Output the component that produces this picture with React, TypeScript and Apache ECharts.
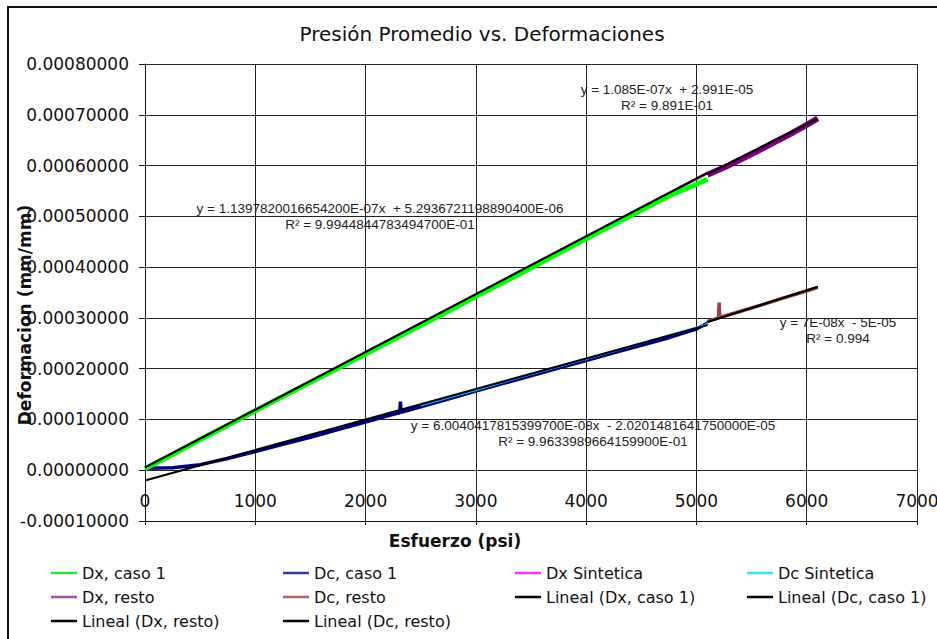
import React, { useEffect, useRef } from "react";
import * as echarts from "echarts";

// ---- data ----
const xDxCaso1 = [0, 250, 500, 750, 1000, 1250, 1500, 1750, 2000, 2250, 2500, 2750, 3000, 3250, 3500, 3750, 4000, 4250, 4500, 4750, 5000, 5100];
const yDxCaso1 = [0.000003, 0.000031, 0.00006, 0.000088, 0.000117, 0.000145, 0.000173, 0.000201, 0.000229, 0.000257, 0.000285, 0.000313, 0.000342, 0.00037, 0.000398, 0.000427, 0.000456, 0.000484, 0.000512, 0.00054, 0.000563, 0.000573];

const xDcCaso1 = [0, 250, 500, 750, 1000, 1250, 1500, 1750, 2000, 2250, 2310, 2316, 2322, 2500, 2750, 3000, 3250, 3500, 3750, 4000, 4250, 4500, 4750, 5000, 5100];
const yDcCaso1 = [0.000004, 0.000005, 0.000011, 0.000023, 0.000037, 0.000051, 0.000065, 0.00008, 0.000095, 0.00011, 0.000113, 0.000135, 0.000114, 0.000125, 0.00014, 0.000156, 0.000171, 0.000186, 0.000201, 0.000216, 0.000231, 0.000246, 0.000261, 0.000278, 0.00029];

const xDxSint = [3000, 3500, 4000, 4500, 5000, 5100];
const yDxSint = [0.000346, 0.000402, 0.000459, 0.000516, 0.000573, 0.000584];

const xDcSint = [2500, 3000, 3500, 4000, 4500, 5000, 5100];
const yDcSint = [0.000128, 0.000158, 0.000189, 0.000219, 0.00025, 0.000281, 0.000288];

const xDxResto = [5100, 5250, 5400, 5550, 5700, 5850, 6000, 6100];
const yDxResto = [0.000582, 0.000596, 0.000612, 0.000628, 0.000645, 0.000662, 0.00068, 0.000693];

const xDcResto = [5100, 5200, 5206, 5212, 5400, 5600, 5800, 6000, 6100];
const yDcResto = [0.000293, 0.0003, 0.00033, 0.000301, 0.000313, 0.000326, 0.00034, 0.000353, 0.00036];

const xLinDxCaso1 = [0, 5100];
const yLinDxCaso1 = [0.0000053, 0.000586];
const xLinDcCaso1 = [0, 5100];
const yLinDcCaso1 = [-0.0000202, 0.000286];
const xLinDxResto = [5100, 6100];
const yLinDxResto = [0.000583, 0.000692];
const xLinDcResto = [5100, 6100];
const yLinDcResto = [0.000292, 0.000361];

const xTicksMin = 0;
const xTicksMax = 7000;
const xTickStep = 1000;
const yTicksMin = -0.0001;
const yTicksMax = 0.0008;
const yTickStep = 0.0001;

const chartTitle = "Presión Promedio vs. Deformaciones";
const xTitle = "Esfuerzo (psi)";
const yTitle = "Deformacion (mm/mm)";

const eq1 = ["y = 1.1397820016654200E-07x  + 5.2936721198890400E-06", "R² = 9.9944844783494700E-01"];
const eq2 = ["y = 1.085E-07x  + 2.991E-05", "R² = 9.891E-01"];
const eq3 = ["y = 6.0040417815399700E-08x  - 2.0201481641750000E-05", "R² = 9.9633989664159900E-01"];
const eq4 = ["y = 7E-08x  - 5E-05", "R² = 0.994"];

const zip = (xs: number[], ys: number[]) => xs.map((x, i) => [x, ys[i]]);

const FONT = "'DejaVu Sans', Verdana, sans-serif";
const EQFONT = "'Liberation Sans', Arial, sans-serif";

export default function App() {
  const ref = useRef<HTMLDivElement>(null);
  useEffect(() => {
    if (!ref.current) return;
    const chart = echarts.init(ref.current, undefined, { renderer: "svg" });

    const line = (name: string, xs: number[], ys: number[], color: string, width: number) => ({
      name,
      type: "line",
      data: zip(xs, ys),
      showSymbol: false,
      symbol: "none",
      lineStyle: { color, width },
      itemStyle: { color },
      emphasis: { disabled: true },
      silent: true,
    });

    const legendBase = {
      orient: "vertical",
      top: 565,
      padding: 0,
      itemWidth: 26,
      itemHeight: 2.5,
      itemGap: 8,
      textStyle: { fontFamily: FONT, fontSize: 16, lineHeight: 16, color: "#111", padding: 0 },
      selectedMode: false,
    };
    const li = (name: string, color: string) => ({
      name,
      icon: "rect",
      itemStyle: { color },
    });

    const eqText = (lines: string[], cx: number, cy: number) =>
      lines.map((t, i) => ({
        type: "text",
        x: cx,
        y: cy + i * 16,
        silent: true,
        style: {
          text: t,
          font: `13.5px ${EQFONT}`,
          fill: "#222",
          align: "center",
          verticalAlign: "middle",
          textAlign: "center",
          textVerticalAlign: "middle",
        },
      }));

    const option: any = {
      animation: false,
      backgroundColor: "#fff",
      grid: { left: 145, top: 64, right: 20, bottom: 118, containLabel: false, outerBoundsMode: "none" },
      xAxis: {
        type: "value",
        min: xTicksMin,
        max: xTicksMax,
        interval: xTickStep,
        axisLine: { show: true, onZero: false, lineStyle: { color: "#111", width: 1 } },
        axisTick: { show: true, length: 4, lineStyle: { color: "#111" } },
        axisLabel: {
          fontFamily: FONT,
          fontSize: 17,
          color: "#111",
          margin: -29,
          formatter: (v: number) => String(v),
        },
        splitLine: { show: true, lineStyle: { color: "#222", width: 1 } },
      },
      yAxis: {
        type: "value",
        min: yTicksMin,
        max: yTicksMax,
        interval: yTickStep,
        axisLine: { show: true, lineStyle: { color: "#111", width: 1 } },
        axisTick: { show: true, length: 6, lineStyle: { color: "#111" } },
        axisLabel: {
          fontFamily: FONT,
          fontSize: 17,
          color: "#111",
          margin: 16,
          formatter: (v: number) => v.toFixed(8),
        },
        splitLine: { show: true, lineStyle: { color: "#222", width: 1 } },
      },
      legend: [
        { ...legendBase, left: 51, data: [li("Dx, caso 1", "#33dd33"), li("Dx, resto", "#a050a0"), li("Lineal (Dx, resto)", "#000")] },
        { ...legendBase, left: 283, data: [li("Dc, caso 1", "#3838a0"), li("Dc, resto", "#b06060"), li("Lineal (Dc, resto)", "#000")] },
        { ...legendBase, left: 515, data: [li("Dx Sintetica", "#ff33ff"), li("Lineal (Dx, caso 1)", "#000")] },
        { ...legendBase, left: 747, data: [li("Dc Sintetica", "#33e0f0"), li("Lineal (Dc, caso 1)", "#000")] },
      ],
      series: [
        line("Dx Sintetica", xDxSint, yDxSint, "#ff00ff", 2),
        line("Dc, caso 1", xDcCaso1, yDcCaso1, "#000080", 3.5),
        line("Dc Sintetica", xDcSint, yDcSint, "#00e8ff", 2),
        line("Dx, caso 1", xDxCaso1, yDxCaso1, "#00ff00", 5),
        line("Dx, resto", xDxResto, yDxResto, "#800080", 6),
        line("Dc, resto", xDcResto, yDcResto, "#a04040", 3.5),
        line("Lineal (Dx, caso 1)", xLinDxCaso1, yLinDxCaso1, "#000", 2.2),
        line("Lineal (Dc, caso 1)", xLinDcCaso1, yLinDcCaso1, "#000", 2.2),
        line("Lineal (Dx, resto)", xLinDxResto, yLinDxResto, "#000", 2.2),
        line("Lineal (Dc, resto)", xLinDcResto, yLinDcResto, "#000", 2.2),
      ],
      graphic: [
        {
          type: "rect",
          silent: true,
          shape: { x: 8, y: 7, width: 980, height: 700 },
          style: { fill: "none", stroke: "#111", lineWidth: 2 },
          z: -1,
        },
        {
          type: "text",
          x: 482,
          y: 34,
          silent: true,
          style: { text: chartTitle, font: `20px ${FONT}`, fill: "#111", align: "center", verticalAlign: "middle", textAlign: "center", textVerticalAlign: "middle" },
        },
        {
          type: "text",
          x: 455,
          y: 541,
          silent: true,
          style: { text: xTitle, font: `bold 17px ${FONT}`, fill: "#111", align: "center", verticalAlign: "middle", textAlign: "center", textVerticalAlign: "middle" },
        },
        {
          type: "text",
          x: 25,
          y: 315,
          rotation: Math.PI / 2,
          silent: true,
          style: { text: yTitle, font: `bold 17px ${FONT}`, fill: "#111", align: "center", verticalAlign: "middle", textAlign: "center", textVerticalAlign: "middle" },
        },
        ...eqText(eq1, 380, 208),
        ...eqText(eq2, 667, 89),
        ...eqText(eq3, 593, 425),
        ...eqText(eq4, 838, 322),
      ],
    };
    chart.setOption(option);
    return () => chart.dispose();
  }, []);
  return <div ref={ref} style={{ position: "absolute", left: 0, top: 0, width: 937, height: 639 }} />;
}
